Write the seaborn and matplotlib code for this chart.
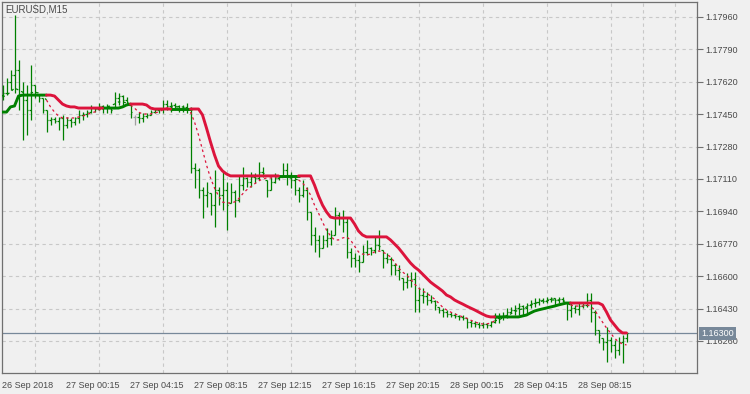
import matplotlib
matplotlib.use("Agg")
import matplotlib.pyplot as plt
import matplotlib.transforms as mtransforms
import pandas as pd
import seaborn as sns


SYMBOL = "EURUSD,M15"
LAST_PRICE = 1.16300

# 15-minute OHLC bars, oldest first (26 Sep 20:15 .. 28 Sep 11:15)
OPEN = [
    1.17550, 1.17561, 1.17619, 1.17655, 1.17682, 1.17550, 1.17524, 1.17472, 1.17603, 1.17550,
    1.17535, 1.17472, 1.17419, 1.17425, 1.17414, 1.17430, 1.17393, 1.17419, 1.17409, 1.17430,
    1.17446, 1.17451, 1.17461, 1.17482, 1.17477, 1.17493, 1.17482, 1.17482, 1.17482, 1.17535,
    1.17545, 1.17524, 1.17498, 1.17435, 1.17435, 1.17430, 1.17440, 1.17446, 1.17461, 1.17472,
    1.17477, 1.17503, 1.17493, 1.17498, 1.17493, 1.17482, 1.17488, 1.17482, 1.17168, 1.17157,
    1.17052, 1.17026, 1.17036, 1.16973, 1.17052, 1.17026, 1.17052, 1.16984, 1.17042, 1.17000,
    1.17078, 1.17115, 1.17094, 1.17120, 1.17115, 1.17147, 1.17105, 1.17052, 1.17094, 1.17115,
    1.17120, 1.17157, 1.17131, 1.17105, 1.17052, 1.17026, 1.17052, 1.16937, 1.16816, 1.16790,
    1.16748, 1.16790, 1.16800, 1.16816, 1.16921, 1.16905, 1.16884, 1.16727, 1.16695, 1.16685,
    1.16674, 1.16727, 1.16748, 1.16737, 1.16764, 1.16737, 1.16695, 1.16690, 1.16659, 1.16632,
    1.16590, 1.16569, 1.16580, 1.16585, 1.16475, 1.16501, 1.16496, 1.16475, 1.16470, 1.16438,
    1.16423, 1.16412, 1.16401, 1.16396, 1.16391, 1.16386, 1.16380, 1.16359, 1.16354, 1.16349,
    1.16344, 1.16349, 1.16344, 1.16359, 1.16380, 1.16391, 1.16396, 1.16412, 1.16423, 1.16433,
    1.16443, 1.16433, 1.16449, 1.16459, 1.16464, 1.16475, 1.16470, 1.16480, 1.16485, 1.16475,
    1.16480, 1.16459, 1.16423, 1.16433, 1.16428, 1.16443, 1.16449, 1.16475, 1.16412, 1.16318,
    1.16275, 1.16255, 1.16265, 1.16239, 1.16213, 1.16255, 1.16275,
]
HIGH = [
    1.17603, 1.17640, 1.17682, 1.17970, 1.17734, 1.17619, 1.17603, 1.17708, 1.17603, 1.17550,
    1.17535, 1.17472, 1.17435, 1.17435, 1.17435, 1.17446, 1.17435, 1.17430, 1.17435, 1.17472,
    1.17461, 1.17472, 1.17498, 1.17488, 1.17509, 1.17498, 1.17503, 1.17482, 1.17566, 1.17561,
    1.17550, 1.17540, 1.17498, 1.17446, 1.17461, 1.17456, 1.17456, 1.17472, 1.17482, 1.17482,
    1.17524, 1.17524, 1.17514, 1.17509, 1.17498, 1.17498, 1.17509, 1.17488, 1.17194, 1.17168,
    1.17068, 1.17094, 1.17036, 1.17157, 1.17068, 1.17147, 1.17094, 1.17089, 1.17052, 1.17131,
    1.17173, 1.17120, 1.17147, 1.17141, 1.17199, 1.17173, 1.17105, 1.17120, 1.17141, 1.17120,
    1.17194, 1.17194, 1.17147, 1.17120, 1.17068, 1.17105, 1.17068, 1.16937, 1.16858, 1.16816,
    1.16816, 1.16853, 1.16842, 1.16963, 1.16937, 1.16947, 1.16905, 1.16748, 1.16722, 1.16711,
    1.16764, 1.16790, 1.16753, 1.16806, 1.16842, 1.16737, 1.16722, 1.16701, 1.16669, 1.16659,
    1.16590, 1.16617, 1.16622, 1.16622, 1.16543, 1.16538, 1.16517, 1.16501, 1.16475, 1.16438,
    1.16433, 1.16423, 1.16412, 1.16407, 1.16396, 1.16396, 1.16380, 1.16370, 1.16365, 1.16359,
    1.16359, 1.16354, 1.16365, 1.16407, 1.16407, 1.16412, 1.16433, 1.16438, 1.16449, 1.16459,
    1.16449, 1.16459, 1.16475, 1.16485, 1.16485, 1.16485, 1.16491, 1.16491, 1.16485, 1.16491,
    1.16491, 1.16459, 1.16459, 1.16449, 1.16464, 1.16459, 1.16512, 1.16512, 1.16423, 1.16318,
    1.16275, 1.16333, 1.16281, 1.16265, 1.16281, 1.16291, 1.16300,
]
LOW = [
    1.17524, 1.17550, 1.17577, 1.17561, 1.17472, 1.17315, 1.17341, 1.17419, 1.17535, 1.17514,
    1.17456, 1.17356, 1.17393, 1.17404, 1.17367, 1.17315, 1.17377, 1.17383, 1.17393, 1.17404,
    1.17419, 1.17435, 1.17456, 1.17461, 1.17472, 1.17456, 1.17456, 1.17456, 1.17482, 1.17498,
    1.17488, 1.17498, 1.17430, 1.17393, 1.17404, 1.17409, 1.17430, 1.17446, 1.17456, 1.17456,
    1.17456, 1.17472, 1.17461, 1.17472, 1.17461, 1.17461, 1.17456, 1.17141, 1.17063, 1.17010,
    1.16905, 1.16963, 1.16921, 1.16858, 1.16973, 1.16947, 1.16842, 1.16984, 1.16910, 1.16989,
    1.17052, 1.17068, 1.17068, 1.17089, 1.17105, 1.17120, 1.17016, 1.17052, 1.17089, 1.17105,
    1.17120, 1.17078, 1.17063, 1.17026, 1.16989, 1.17016, 1.16895, 1.16764, 1.16727, 1.16701,
    1.16748, 1.16753, 1.16764, 1.16816, 1.16869, 1.16832, 1.16695, 1.16648, 1.16648, 1.16622,
    1.16674, 1.16711, 1.16711, 1.16722, 1.16737, 1.16643, 1.16669, 1.16606, 1.16606, 1.16580,
    1.16528, 1.16538, 1.16543, 1.16412, 1.16412, 1.16459, 1.16449, 1.16459, 1.16423, 1.16407,
    1.16386, 1.16386, 1.16386, 1.16380, 1.16370, 1.16370, 1.16328, 1.16333, 1.16333, 1.16328,
    1.16328, 1.16328, 1.16333, 1.16354, 1.16354, 1.16370, 1.16380, 1.16407, 1.16396, 1.16396,
    1.16396, 1.16407, 1.16433, 1.16438, 1.16449, 1.16459, 1.16459, 1.16464, 1.16449, 1.16459,
    1.16464, 1.16370, 1.16386, 1.16407, 1.16396, 1.16433, 1.16438, 1.16359, 1.16291, 1.16249,
    1.16213, 1.16150, 1.16202, 1.16171, 1.16186, 1.16144, 1.16255,
]
CLOSE = [
    1.17561, 1.17619, 1.17655, 1.17682, 1.17550, 1.17524, 1.17472, 1.17603, 1.17566, 1.17535,
    1.17472, 1.17419, 1.17425, 1.17414, 1.17430, 1.17393, 1.17419, 1.17409, 1.17430, 1.17446,
    1.17451, 1.17461, 1.17482, 1.17477, 1.17493, 1.17482, 1.17493, 1.17472, 1.17535, 1.17545,
    1.17524, 1.17514, 1.17461, 1.17435, 1.17430, 1.17440, 1.17446, 1.17461, 1.17472, 1.17477,
    1.17503, 1.17493, 1.17498, 1.17493, 1.17482, 1.17488, 1.17482, 1.17168, 1.17157, 1.17052,
    1.17026, 1.17042, 1.16973, 1.17052, 1.17026, 1.17052, 1.16973, 1.17042, 1.17000, 1.17078,
    1.17115, 1.17094, 1.17120, 1.17115, 1.17147, 1.17141, 1.17052, 1.17094, 1.17115, 1.17120,
    1.17157, 1.17131, 1.17105, 1.17052, 1.17026, 1.17052, 1.16937, 1.16816, 1.16790, 1.16748,
    1.16790, 1.16800, 1.16816, 1.16921, 1.16905, 1.16884, 1.16727, 1.16695, 1.16685, 1.16674,
    1.16727, 1.16748, 1.16737, 1.16764, 1.16758, 1.16695, 1.16690, 1.16659, 1.16632, 1.16622,
    1.16569, 1.16580, 1.16585, 1.16475, 1.16501, 1.16496, 1.16475, 1.16470, 1.16449, 1.16423,
    1.16412, 1.16401, 1.16396, 1.16391, 1.16386, 1.16380, 1.16359, 1.16354, 1.16349, 1.16344,
    1.16349, 1.16344, 1.16359, 1.16380, 1.16391, 1.16396, 1.16412, 1.16423, 1.16433, 1.16443,
    1.16433, 1.16449, 1.16459, 1.16464, 1.16475, 1.16470, 1.16480, 1.16485, 1.16475, 1.16480,
    1.16475, 1.16423, 1.16433, 1.16428, 1.16443, 1.16449, 1.16475, 1.16412, 1.16318, 1.16291,
    1.16255, 1.16265, 1.16239, 1.16213, 1.16255, 1.16275, 1.16300,
]

# thick trend-following line and thin dotted signal line
TREND_LINE = [
    1.17461, 1.17461, 1.17488, 1.17493, 1.17545, 1.17550, 1.17550, 1.17550, 1.17550, 1.17550,
    1.17550, 1.17550, 1.17550, 1.17545, 1.17524, 1.17503, 1.17493, 1.17488, 1.17488, 1.17482,
    1.17482, 1.17482, 1.17482, 1.17482, 1.17482, 1.17482, 1.17482, 1.17482, 1.17482, 1.17482,
    1.17488, 1.17498, 1.17503, 1.17503, 1.17503, 1.17503, 1.17498, 1.17482, 1.17477, 1.17477,
    1.17477, 1.17477, 1.17477, 1.17477, 1.17477, 1.17477, 1.17477, 1.17477, 1.17477, 1.17477,
    1.17446, 1.17377, 1.17304, 1.17236, 1.17178, 1.17152, 1.17136, 1.17126, 1.17126, 1.17126,
    1.17126, 1.17126, 1.17126, 1.17126, 1.17126, 1.17126, 1.17126, 1.17126, 1.17126, 1.17126,
    1.17126, 1.17126, 1.17126, 1.17126, 1.17126, 1.17126, 1.17126, 1.17126, 1.17078, 1.17021,
    1.16973, 1.16937, 1.16910, 1.16905, 1.16905, 1.16905, 1.16905, 1.16905, 1.16874, 1.16837,
    1.16816, 1.16806, 1.16806, 1.16806, 1.16806, 1.16806, 1.16806, 1.16790, 1.16769, 1.16748,
    1.16722, 1.16695, 1.16669, 1.16648, 1.16632, 1.16611, 1.16590, 1.16569, 1.16553, 1.16538,
    1.16522, 1.16501, 1.16491, 1.16475, 1.16464, 1.16454, 1.16443, 1.16433, 1.16423, 1.16412,
    1.16401, 1.16391, 1.16386, 1.16386, 1.16386, 1.16386, 1.16386, 1.16386, 1.16386, 1.16386,
    1.16391, 1.16396, 1.16407, 1.16417, 1.16423, 1.16428, 1.16433, 1.16438, 1.16443, 1.16449,
    1.16454, 1.16459, 1.16459, 1.16459, 1.16459, 1.16459, 1.16459, 1.16459, 1.16459, 1.16459,
    1.16449, 1.16412, 1.16370, 1.16344, 1.16318, 1.16302, 1.16302,
]
SIGNAL_LINE = [
    1.17540, 1.17550, 1.17566, 1.17587, 1.17577, 1.17566, 1.17550, 1.17561, 1.17566, 1.17561,
    1.17550, 1.17524, 1.17488, 1.17461, 1.17440, 1.17430, 1.17430, 1.17430, 1.17430, 1.17435,
    1.17440, 1.17446, 1.17456, 1.17461, 1.17472, 1.17477, 1.17488, 1.17493, 1.17503, 1.17514,
    1.17514, 1.17509, 1.17498, 1.17482, 1.17461, 1.17451, 1.17451, 1.17451, 1.17456, 1.17461,
    1.17472, 1.17482, 1.17488, 1.17488, 1.17488, 1.17488, 1.17482, 1.17461, 1.17409, 1.17341,
    1.17262, 1.17183, 1.17115, 1.17063, 1.17021, 1.16989, 1.16984, 1.16984, 1.16989, 1.17005,
    1.17031, 1.17052, 1.17068, 1.17084, 1.17099, 1.17110, 1.17115, 1.17115, 1.17120, 1.17120,
    1.17120, 1.17120, 1.17115, 1.17110, 1.17105, 1.17089, 1.17063, 1.17026, 1.16973, 1.16931,
    1.16884, 1.16842, 1.16811, 1.16790, 1.16790, 1.16800, 1.16806, 1.16790, 1.16758, 1.16727,
    1.16716, 1.16711, 1.16716, 1.16727, 1.16732, 1.16727, 1.16716, 1.16701, 1.16674, 1.16643,
    1.16622, 1.16606, 1.16585, 1.16559, 1.16538, 1.16522, 1.16512, 1.16496, 1.16480, 1.16459,
    1.16438, 1.16423, 1.16412, 1.16401, 1.16396, 1.16386, 1.16380, 1.16370, 1.16359, 1.16354,
    1.16349, 1.16349, 1.16354, 1.16365, 1.16370, 1.16380, 1.16391, 1.16401, 1.16412, 1.16423,
    1.16428, 1.16438, 1.16449, 1.16454, 1.16464, 1.16470, 1.16470, 1.16475, 1.16475, 1.16475,
    1.16470, 1.16459, 1.16449, 1.16443, 1.16443, 1.16443, 1.16449, 1.16443, 1.16423, 1.16391,
    1.16359, 1.16328, 1.16302, 1.16275, 1.16255, 1.16244, 1.16239,
]
# direction of the trend line as (state, number of bars)
TREND_RUNS = [
    ("up", 11), ("down", 14), ("up", 7), ("down", 10), ("up", 5),
    ("down", 22), ("up", 5), ("down", 49), ("up", 19), ("down", 15),
]

TIME_LABELS = [
    "26 Sep 2018", "27 Sep 00:15", "27 Sep 04:15", "27 Sep 08:15", "27 Sep 12:15",
    "27 Sep 16:15", "27 Sep 20:15", "28 Sep 00:15", "28 Sep 04:15", "28 Sep 08:15",
]
PRICE_TICKS = [
    1.16260, 1.16430, 1.16600, 1.16770, 1.16940, 1.17110,
    1.17280, 1.17450, 1.17620, 1.17790, 1.17960,
]

BG = "#F0F0F0"
TEXT = "#4A4A4A"
GRID = "#C8C8C8"
BAR_GREEN = "#008000"
DOJI_GRAY = "#A0A0A0"
PALETTE = {"up": "#008000", "down": "#DC143C"}
PRICE_LINE = "#778899"


def build_line_table() -> pd.DataFrame:
    """One row per bar and run; each run keeps the next bar so the runs join."""
    n = len(CLOSE)
    rows = []
    start = 0
    for run_id, (state, length) in enumerate(TREND_RUNS):
        stop = min(start + length + 1, n)
        for i in range(start, stop):
            rows.append({
                "bar": i,
                "run": run_id,
                "state": state,
                "trend": TREND_LINE[i],
                "signal": SIGNAL_LINE[i],
            })
        start += length
    return pd.DataFrame(rows)


def main() -> None:
    sns.set_theme(style="white")
    plt.rcParams["font.family"] = ["Liberation Sans", "DejaVu Sans"]

    fig = plt.figure(figsize=(7.5, 3.94), dpi=100, facecolor=BG)
    ax = fig.add_axes([2 / 750, 21 / 394, 695 / 750, 371 / 394], facecolor=BG)

    bars = list(range(len(CLOSE)))
    colors = [DOJI_GRAY if o == c else BAR_GREEN for o, c in zip(OPEN, CLOSE)]
    bar_kw = dict(colors=colors, lw=0.9, zorder=3)
    ax.vlines(bars, LOW, HIGH, **bar_kw)
    ax.hlines(OPEN, [b - 0.45 for b in bars], bars, **bar_kw)
    ax.hlines(CLOSE, bars, [b + 0.45 for b in bars], **bar_kw)

    lines = build_line_table()
    sns.lineplot(data=lines, x="bar", y="signal", hue="state", units="run",
                 estimator=None, sort=False, palette=PALETTE, legend=False,
                 lw=0.9, linestyle=(0, (2, 2.5)), ax=ax, zorder=4)
    sns.lineplot(data=lines, x="bar", y="trend", hue="state", units="run",
                 estimator=None, sort=False, palette=PALETTE, legend=False,
                 lw=2.1, ax=ax, zorder=5)

    ax.axhline(LAST_PRICE, color=PRICE_LINE, lw=0.9, zorder=2)

    ax.set_xlim(-0.125, 173.625)
    ax.set_ylim(1.160918, 1.180385)

    ax.set_xticks(range(0, 16 * len(TIME_LABELS), 16))
    ax.set_xticklabels(TIME_LABELS, ha="left")
    ax.set_xticks(range(0, 174, 8), minor=True)
    ax.set_yticks(PRICE_TICKS)
    ax.set_yticklabels([f"{p:.5f}" for p in PRICE_TICKS])
    ax.yaxis.tick_right()

    ax.tick_params(axis="x", which="major", direction="out", length=5, width=0.8,
                   color="#707070", labelsize=6.5, labelcolor=TEXT, pad=1)
    ax.tick_params(axis="x", which="minor", length=0)
    ax.tick_params(axis="y", direction="out", length=4, width=0.8, color="#707070",
                   labelsize=6.5, labelcolor=TEXT, pad=2)
    ax.set_xlabel("")
    ax.set_ylabel("")

    ax.grid(False)
    ax.grid(which="minor", axis="x", color=GRID, lw=0.8, ls=(0, (3, 3)))
    ax.grid(which="major", axis="y", color=GRID, lw=0.8, ls=(0, (3, 3)))
    ax.set_axisbelow(True)

    for spine in ax.spines.values():
        spine.set_visible(True)
        spine.set_color("#707070")
        spine.set_linewidth(0.9)

    ax.text(3 / 695, 1 - 8 / 371, SYMBOL, transform=ax.transAxes, ha="left",
            va="center", fontsize=7, color=TEXT)

    trans = mtransforms.blended_transform_factory(ax.transAxes, ax.transData)
    ax.text(1 + 4 / 695, LAST_PRICE, f"{LAST_PRICE:.5f}", transform=trans,
            ha="left", va="center", fontsize=6.5, color="white", zorder=10,
            clip_on=False,
            bbox=dict(boxstyle="square,pad=0.25", fc=PRICE_LINE, ec="none"))

    fig.savefig("out.png", dpi=100, facecolor=BG)
    plt.close(fig)


if __name__ == "__main__":
    main()
